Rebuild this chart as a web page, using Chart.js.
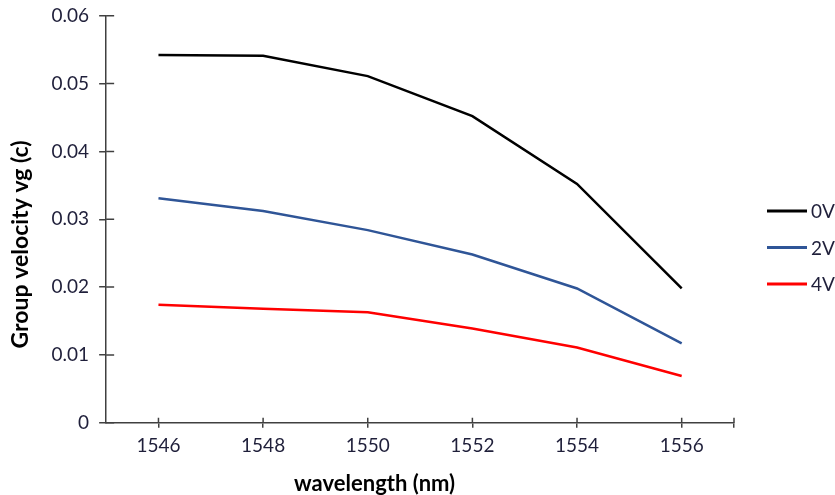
<!DOCTYPE html>
<html>
<head>
<meta charset="utf-8">
<script src="https://cdn.jsdelivr.net/npm/chart.js@4"></script>
<style>
  html, body { margin: 0; padding: 0; background: #fff; }
  #grafico { display: block; }
</style>
</head>
<body>
<canvas id="grafico" width="835" height="495"></canvas>
<script>
// comprimento de onda (nm)
const wavelengths = [1546, 1548, 1550, 1552, 1554, 1556];
const serie0V = [0.0542, 0.0541, 0.0511, 0.0452, 0.0352, 0.0198];
const serie2V = [0.0331, 0.0312, 0.0284, 0.0248, 0.0198, 0.0117];
const serie4V = [0.0174, 0.0168, 0.0163, 0.0139, 0.0111, 0.0069];
const xTicks = [1546, 1548, 1550, 1552, 1554, 1556, 1557];
const yTicks = [0, 0.01, 0.02, 0.03, 0.04, 0.05, 0.06];

const FONTE = 'Lato, "Open Sans", sans-serif';
const COR_EIXO = '#404040';
const COR_TEXTO = '#1f1f3a';

const pontos = vals => vals.map((v, i) => ({ x: wavelengths[i], y: v }));

// parte de dentro dos ticks (estilo Excel, cruzando o eixo)
const ticksCruzados = {
  id: 'ticksCruzados',
  afterDraw(chart) {
    const { ctx, scales: { x, y } } = chart;
    ctx.save();
    ctx.strokeStyle = COR_EIXO;
    ctx.lineWidth = 1.5;
    ctx.beginPath();
    x.ticks.forEach((t, i) => {
      const px = x.getPixelForTick(i);
      ctx.moveTo(px, x.top);
      ctx.lineTo(px, x.top - 5);
    });
    y.ticks.forEach((t, i) => {
      const py = y.getPixelForTick(i);
      ctx.moveTo(y.right, py);
      ctx.lineTo(y.right + 8, py);
    });
    ctx.stroke();
    ctx.restore();
  }
};

// legenda na direita, desenhada a mao pra ficar igual ao Excel
const legendaLateral = {
  id: 'legendaLateral',
  afterDraw(chart) {
    const { ctx, chartArea } = chart;
    const sets = chart.data.datasets;
    const x0 = chartArea.right + 33;
    const passo = 36.5;
    const yMeio = chart.height / 2;
    ctx.save();
    ctx.font = '19px ' + FONTE;
    ctx.textBaseline = 'middle';
    ctx.fillStyle = COR_TEXTO;
    sets.forEach((ds, i) => {
      const yy = yMeio + (i - (sets.length - 1) / 2) * passo;
      ctx.strokeStyle = ds.borderColor;
      ctx.lineWidth = 3;
      ctx.beginPath();
      ctx.moveTo(x0, yy);
      ctx.lineTo(x0 + 40, yy);
      ctx.stroke();
      ctx.fillText(ds.label, x0 + 44, yy + 1);
    });
    ctx.restore();
  }
};

const dataset = (label, vals, cor) => ({
  label,
  data: pontos(vals),
  borderColor: cor,
  backgroundColor: cor,
  borderWidth: 2.5,
  pointRadius: 0,
  tension: 0
});

new Chart(document.getElementById('grafico'), {
  type: 'line',
  data: {
    datasets: [
      dataset('0V', serie0V, '#000000'),
      dataset('2V', serie2V, '#2f5597'),
      dataset('4V', serie4V, '#ff0000')
    ]
  },
  options: {
    responsive: false,
    animation: false,
    layout: { padding: { top: 0, right: 101, bottom: -2, left: 7 } },
    plugins: {
      tooltip: { enabled: false },
      legend: { display: false }
    },
    scales: {
      x: {
        type: 'linear',
        min: 1545,
        max: 1557,
        afterBuildTicks: s => { s.ticks = xTicks.map(v => ({ value: v })); },
        ticks: {
          color: COR_TEXTO,
          font: { family: FONTE, size: 19 },
          padding: 7,
          maxRotation: 0,
          callback: v => (v === 1557 ? '' : String(v))
        },
        grid: { drawOnChartArea: false, tickLength: 5, color: COR_EIXO, lineWidth: 1.5 },
        border: { color: COR_EIXO, width: 1.5 },
        title: {
          display: true,
          text: 'wavelength (nm)' + '\u00a0'.repeat(17),
          color: '#000',
          font: { family: FONTE, size: 22, weight: 'bold' },
          padding: { top: 6, bottom: 0 }
        }
      },
      y: {
        min: 0,
        max: 0.06,
        afterBuildTicks: s => { s.ticks = yTicks.map(v => ({ value: v })); },
        ticks: {
          color: COR_TEXTO,
          font: { family: FONTE, size: 19, lineHeight: 0.6 },
          padding: 10,
          callback: v => String(Number(v.toFixed(2)))
        },
        grid: { drawOnChartArea: false, tickLength: 7, color: COR_EIXO, lineWidth: 1.5 },
        border: { color: COR_EIXO, width: 1.5 },
        title: {
          display: true,
          text: 'Group velocity vg (c)' + '\u00a0'.repeat(9),
          color: '#000',
          font: { family: FONTE, size: 23, weight: 'bold' },
          padding: { top: 0, bottom: 7 }
        }
      }
    }
  },
  plugins: [ticksCruzados, legendaLateral]
});
</script>
</body>
</html>
